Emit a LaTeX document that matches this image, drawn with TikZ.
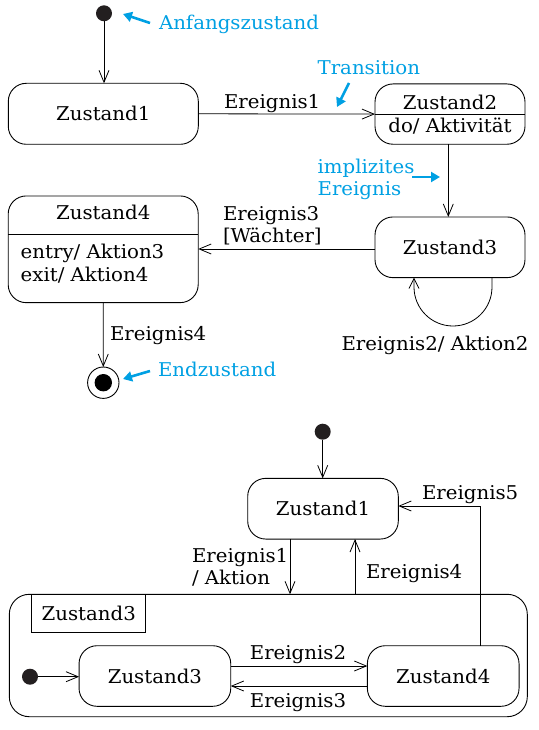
\documentclass[tikz,border=0pt]{standalone}
\usepackage{fontspec}
\setmainfont[FakeStretch=1.04]{DejaVu Serif}
\usetikzlibrary{arrows.meta}
\definecolor{anno}{RGB}{0,160,227}
\definecolor{dotc}{RGB}{35,31,32}
\begin{document}
\begin{tikzpicture}[x=1pt,y=-1pt,
  every node/.style={font=\fontsize{19}{22.5}\selectfont, inner sep=0pt, outer sep=0pt},
  state/.style={draw, rounded corners=18pt, line width=0.9pt},
  tr/.style={line width=0.8pt, -{Straight Barb[length=12pt,width=10pt]}},
  ln/.style={line width=0.8pt},
  initdot/.style={circle, fill=dotc, minimum size=16pt},
  bluearrow/.style={draw=anno, line width=2.6pt, -{Triangle[length=9pt,width=10pt,fill=anno]}},
  annotxt/.style={text=anno, anchor=base west},
  lbl/.style={anchor=base west},
  clbl/.style={anchor=base},
]
\useasboundingbox (0,0) rectangle (538,730);

% ---------------- top diagram ----------------
\node[initdot] (i1) at (104,13.3) {};
\node[state, minimum width=190pt, minimum height=61pt] (z1) at (103.3,113.8) {Zustand1};
\node[state, minimum width=150pt, minimum height=60.3pt] (z2) at (450,114.1) {};
\node[clbl] (z2t) at (450,110) {Zustand2};
\node[clbl] (z2a) at (450,132.7) {do/ Aktivität};
\draw[ln] (z2.west) -- (z2.east);
\node[state, minimum width=150pt, minimum height=60.7pt] (z3) at (450,247.3) {Zustand3};
\node[state, minimum width=190pt, minimum height=106.7pt] (z4) at (103.2,249.3) {};
\node[clbl] (z4t) at (103.2,219.7) {Zustand4};
\draw[ln] (z4.west |- 0,234) -- (z4.east |- 0,234);
\node[lbl] (z4a) at (20.7,258.3) {entry/ Aktion3};
\node[lbl] (z4b) at (20.7,281) {exit/ Aktion4};
\node[circle, draw, line width=0.9pt, minimum size=31.4pt] (f1) at (103.3,382.7) {};
\fill[black] (f1.center) circle (8.7);

\draw[tr] (i1) -- (i1 |- z1.north);
\draw[tr] (z1.east) -- (z2.west);
\draw[tr] (z2.south -| 448.3,0) -- (z3.north -| 448.3,0);
\draw[tr] (z3.west |- 0,249) -- (z4.east |- 0,249);
\draw[ln, -{Straight Barb[length=10pt,width=10pt]}] (z3.south -| 492,0) -- (492,287) arc[start angle=0, end angle=180, radius=39] -- (z3.south -| 414,0);
\draw[tr] (z4.south) -- (f1.north);

\node[lbl] (e1) at (224,109) {Ereignis1};
\node[lbl] (e3) at (223,220.7) {Ereignis3};
\node[lbl] (e3g) at (223,242.5) {[Wächter]};
\node[clbl] (e2) at (435,350.7) {Ereignis2/ Aktion2};
\node[lbl] (e4) at (110,340.7) {Ereignis4};

% annotations
\node[annotxt] (a1) at (159,29.4) {Anfangszustand};
\coordinate (a1s) at (150,23);
\coordinate (a1e) at (123,14);
\draw[bluearrow] (a1s) -- (a1e);
\node[annotxt] (a2) at (317.6,75) {Transition};
\coordinate (a2s) at (349,83);
\coordinate (a2e) at (337,107);
\draw[bluearrow] (a2s) -- (a2e);
\node[annotxt] (a3) at (317.6,173.7) {implizites};
\node[annotxt] (a3b) at (317.6,195) {Ereignis};
\coordinate (a3s) at (412,177);
\coordinate (a3e) at (440,177);
\draw[bluearrow] (a3s) -- (a3e);
\node[annotxt] (a4) at (158,376.7) {Endzustand};
\coordinate (a4s) at (150,371);
\coordinate (a4e) at (123,379);
\draw[bluearrow] (a4s) -- (a4e);

% ---------------- bottom diagram ----------------
\node[state, rounded corners=20pt, minimum width=518pt, minimum height=122.4pt] (B) at (268.3,655.5) {};
\node[draw, line width=0.8pt, minimum width=114pt, minimum height=38pt] (T) at (88.7,613.3) {Zustand3};
\node[initdot] (i2) at (322.7,431.7) {};
\node[state, minimum width=150.6pt, minimum height=60.7pt] (b1) at (323,508.7) {Zustand1};
\node[state, minimum width=151.7pt, minimum height=60.6pt] (b3) at (154.9,676) {Zustand3};
\node[state, minimum width=151.7pt, minimum height=60.6pt] (b4) at (443.2,676) {Zustand4};
\node[initdot] (i3) at (30,676.7) {};

\draw[tr] (i2) -- (i2 |- b1.north);
\draw[tr] (b1.south -| 290,0) -- (B.north -| 290,0);
\draw[tr] (B.north -| 355,0) -- (b1.south -| 355,0);
\draw[tr] (b4.north -| 480.5,0) -- (480.5,506) -- (b1.east |- 0,506);
\draw[tr] (i3) -- (b3.west |- i3);
\draw[tr] (b3.east |- 0,666) -- (b4.west |- 0,666);
\draw[tr] (b4.west |- 0,686) -- (b3.east |- 0,686);

\node[lbl] (f5) at (422,499.4) {Ereignis5};
\node[lbl] (f1a) at (192,562.4) {Ereignis1};
\node[lbl] (f1b) at (192,584.7) {/ Aktion};
\node[lbl] (f4) at (366,578.7) {Ereignis4};
\node[clbl] (f2) at (298,659.4) {Ereignis2};
\node[clbl] (f3) at (298,707.4) {Ereignis3};
\end{tikzpicture}
\end{document}
